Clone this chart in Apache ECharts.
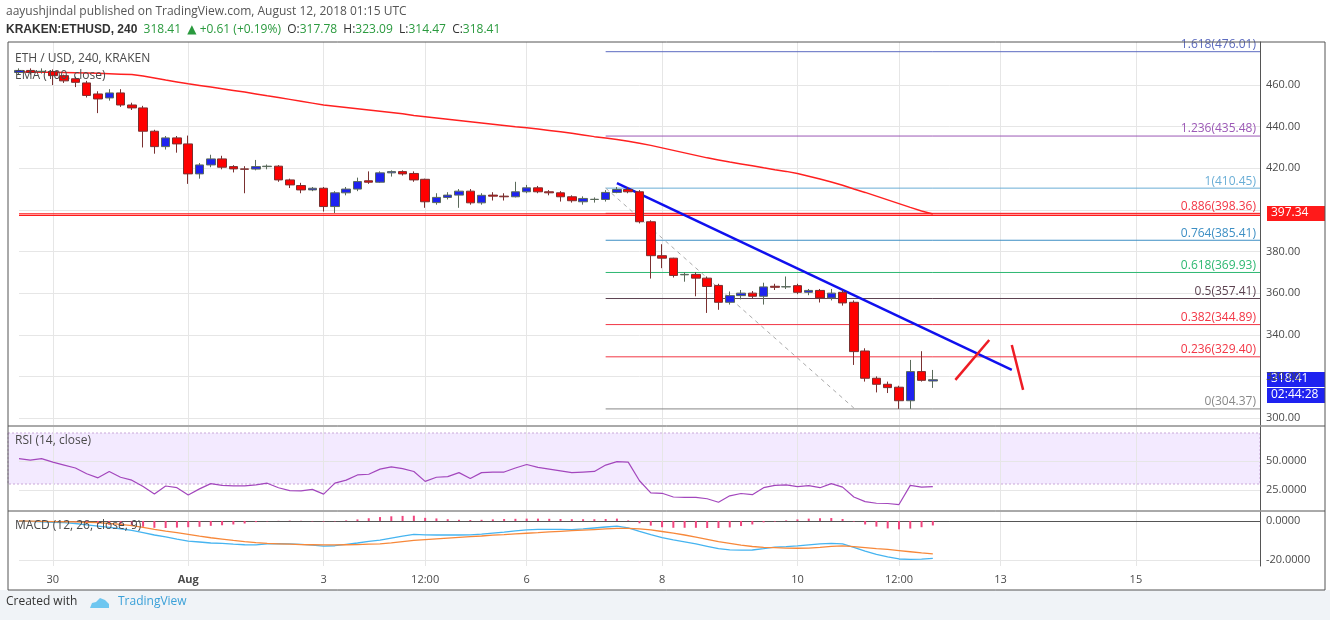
<!DOCTYPE html>
<html>
<head>
<meta charset="UTF-8">
<title>ETH / USD</title>
<script src="https://cdn.jsdelivr.net/npm/echarts@6/dist/echarts.min.js"></script>
<style>
  html, body { margin: 0; padding: 0; background: #fff; }
  #chart { width: 1330px; height: 620px; }
</style>
</head>
<body>
<div id="chart"></div>
<script>
// [open, close, low, high] per 4h candle
const candles = [
  [466,467,465,468],[467,466,465,468],[466.5,466.6,465.5,468],[466.5,464.5,460,467.5],[464.5,462,461,465],
  [463,461.3,459,464],[461,455,454,462],[455.7,453.3,446.5,457],[453.8,456.2,452.5,458],[456.2,450.4,449.5,458],
  [450.4,449,448,451.5],[449,437.8,430,450],[437.8,430.4,427,438.5],[430.4,434.6,429,435.5],[434.6,431.7,427.5,435.5],
  [431.7,417.3,412.5,435.7],[417.3,421.6,415,422.5],[421.6,424.5,420.5,426.5],[424.5,420.5,419.5,426],[420.8,419.7,418,421.5],
  [419.7,419.5,408,421],[419.6,420.8,419,424],[420.8,421,419.5,421.8],[421,414.4,413.5,421.5],[414.4,412,410.5,415],
  [411.7,409.6,408,413],[409.6,410.4,409,411],[410.4,401.6,399.2,411],[401.6,408.2,398.5,409],[408.2,410,407,411],
  [410,413.6,409,415.5],[414,413.3,412.5,418.5],[413.3,417.8,413,418.5],[417.8,418.4,416,419],[418.4,417.3,416.5,419],
  [417.5,414.4,413.5,418.5],[414.7,403.9,401,415],[403.5,406,402.5,408],[406,407.1,405,408.5],[407.1,409,401,410],
  [409,403.4,402.5,410],[403.4,407,402.5,408],[407.1,406.6,404.5,408.5],[406.6,406.3,404.5,408],[406.3,408.7,406,413.5],
  [408.7,410.6,408,412],[410.6,408.7,408,411.5],[408.7,408.2,407,409.5],[408.2,406.3,404,409],[406.3,404.4,403.5,407],
  [403.9,405.5,402.5,406.5],[405,405.1,403.5,406],[405,408.4,404,409.5],[408.4,409.8,408,411],[409.8,408.7,408,411],
  [408.7,394.3,393.5,409.5],[394.3,378,367,395],[378,376.8,372,383.5],[376.8,368.5,367.5,377],[368.8,369,365.5,370],
  [369,367.2,358.5,370],[367.2,363.2,350.5,368],[363.7,355.6,352,364.5],[355.6,358.8,354.5,360.8],[358.8,360,357,361.5],
  [360,358.5,357.5,361],[358.5,363,354.5,365],[363.3,362.8,361.5,364.5],[363,363.1,362,368],[363.6,360.4,359.5,364.5],
  [360.4,361.3,359,362],[361.3,357.7,355.5,362],[357.7,360,356.5,362],[360.4,355.3,354,361.5],[355.6,331.9,325.5,356.5],
  [332.2,319.1,317.5,333.5],[319.1,316.2,312.3,320],[316.2,314.6,312,317.5],[314.8,308.3,304.4,315.5],[308.3,322.3,304.4,327.9],
  [322.3,318.1,317.5,332.1],[317.78,318.41,314.47,323.09]
];
const ema100 = [
  466.2,466.2,466.1,466.1,466,465.9,465.8,465.6,465.4,465.2,
  465,464.3,463.4,462.4,461.5,460.6,459.8,459,458.2,457.4,
  456.6,455.7,454.8,454,453.1,452.2,451.3,450.4,449.8,449.2,
  448.6,448,447.4,446.8,446.2,445.4,444.8,444.2,443.6,443,
  442.4,441.8,441.2,440.6,440,439.5,438.9,438.2,437.5,436.8,
  436,435.2,434.5,433.8,433,432,431,429.8,428.6,427.4,
  426.2,425,424,423,422.1,421.2,420.2,419.3,418.5,417.5,
  416.2,414.8,413.4,411.8,410,408.4,406.6,404.8,403,401.2,
  399.5,398
];
const rsi = [
  52,50.7,52,49,46.5,44,39,35.5,41,36,33.5,28,21.5,28.5,27,20.7,26,30.5,29,28.5,
  28.5,29.5,30.9,27,24.5,24.2,25.6,21.5,31,33.5,38,38.6,43,45,43.5,41,32.5,36,36.6,40,
  35,40,40.5,40.5,44,47,44.5,43,41.5,40,40.5,41,46.5,49.5,49,33,22.5,22.2,19,18.7,
  18.7,17.5,14.5,20,22,21,27,29,29.4,28,28.8,27,30.5,27.5,19,15,13.6,13.4,12.5,29,
  27.5,28
];
const macd = [
  0,-0.2,-0.4,-0.7,-0.9,-1.3,-2,-2.6,-3.3,-4,-4.8,-6,-7.2,-8.2,-9.3,-10.3,-10.8,-11.3,-11.5,-11.9,
  -12.2,-12.3,-11.8,-11.6,-11.7,-12,-12.4,-12.9,-12.7,-12,-11.3,-10.5,-9.8,-8.8,-7.8,-6.9,-7.1,-7.2,-7.2,-7.2,
  -7.1,-6.7,-6.2,-5.7,-5.1,-4.6,-4.3,-4.3,-4.3,-4.4,-4.1,-3.6,-3.1,-2.6,-3.5,-5.3,-7,-8.6,-9.7,-10.7,
  -11.8,-13,-14.2,-14.8,-15,-14.9,-14.2,-13.4,-13.2,-12.8,-12.3,-11.8,-11.5,-11.8,-13.5,-15.5,-17.1,-18.4,-19.5,-19.7,
  -19.6,-19.2
];
const signal = [
  0,-0.1,-0.2,-0.3,-0.4,-0.5,-0.7,-0.9,-1.3,-1.8,-2.4,-3.3,-4.3,-5.2,-6,-6.9,-7.8,-8.6,-9.3,-10,
  -10.6,-11.1,-11.5,-11.7,-11.9,-12.1,-12.2,-12.3,-12.3,-12.2,-12.1,-11.9,-11.7,-11.2,-10.6,-10,-9.6,-9.2,-8.8,-8.4,
  -8,-7.7,-7.3,-7,-6.6,-6.3,-6,-5.6,-5.3,-5,-4.7,-4.4,-4.1,-3.8,-3.8,-4.1,-4.6,-5.4,-6.2,-7.2,
  -8.3,-9.4,-10.6,-11.5,-12.4,-13.1,-13.5,-13.7,-13.9,-14,-13.9,-13.5,-13,-12.8,-13.2,-13.7,-14.2,-14.6,-15.2,-15.8,
  -16.4,-16.9
];
const hist = [
  0,-0.1,-0.2,-0.3,-0.5,-0.7,-1.2,-1.6,-2,-2.3,-2.6,-3,-3.5,-3.6,-3.4,-3.2,-3,-2.5,-2.2,-1.8,
  -1.3,-0.6,-0.2,0.1,0.2,0.1,-0.2,-0.3,-0.2,0.3,0.8,1.4,2,2.4,2.6,2.7,1.6,1.3,0.9,0.6,
  0.5,0.6,0.8,1,1.1,1.2,1.2,1.1,1,0.9,0.9,0.9,1,1.2,0.3,-1.2,-2.4,-3.2,-3.5,-3.5,
  -3.5,-3.6,-3.6,-3.3,-2.6,-1.8,-0.7,-0.3,0.3,0.8,1.2,1.4,1.5,1,-0.3,-1.8,-2.9,-3.8,-4.3,-3.9,
  -3.2,-2.3
];
const fibLevels = [
  ['1.618', 476.01, '#5c6bc0'], ['1.236', 435.48, '#9c59b6'], ['1', 410.45, '#6aaed6'],
  ['0.886', 398.36, '#f23645'], ['0.764', 385.41, '#3d8fc4'], ['0.618', 369.93, '#2eb872'],
  ['0.5', 357.41, '#5d4351'], ['0.382', 344.89, '#f23645'], ['0.236', 329.40, '#f23645'], ['0', 304.37, '#888888']
];
const tickLabels = {3: '30', 15: 'Aug', 27: '3', 36: '12:00', 45: '6', 57: '8', 69: '10', 78: '12:00', 87: '13', 99: '15'};
const priceTicks = [300, 320, 340, 360, 380, 400, 420, 440, 460];
const priceLabels = [300, 320, 340, 360, 380, 420, 440, 460];
const supportLevel = 397.34;
const trendLine = [[53, 412.9], [88, 323.1]];
const fibDiagonal = [[52, 410.5], [74.3, 304.8]];
const redStroke1 = [[83.2, 318.3], [85.8, 337.5]];
const redStroke2 = [[87.9, 335.1], [89, 313.5]];

const slots = [];
for (let i = 0; i <= 110; i++) slots.push(String(i));
const F = 'Open Sans, DejaVu Sans, sans-serif';
const gridCol = '#e6e6e6';
const GL = 19, GR = 70;

function xAxisFor(gridIndex, showLabels) {
  return {
    type: 'category', gridIndex: gridIndex, data: slots, boundaryGap: false,
    axisLine: {show: showLabels, lineStyle: {color: '#555'}},
    axisTick: {show: false},
    axisLabel: {
      show: showLabels, interval: (i) => tickLabels[i] !== undefined,
      formatter: (v) => tickLabels[v] === 'Aug' ? '{b|Aug}' : (tickLabels[v] || ''),
      color: '#4a4a4a', fontSize: 11, fontFamily: F, margin: 8,
      rich: {b: {fontWeight: 'bold', color: '#4a4a4a', fontSize: 11, fontFamily: F}}
    },
    splitLine: {show: true, interval: (i) => tickLabels[i] !== undefined, lineStyle: {color: gridCol}}
  };
}
function yAxisFor(gridIndex, min, max, ticks, labels, fmt) {
  return {
    type: 'value', gridIndex: gridIndex, position: 'right', min: min, max: max,
    axisLine: {show: true, lineStyle: {color: '#555'}},
    axisTick: {show: false, customValues: ticks},
    axisLabel: {customValues: labels, formatter: fmt, color: '#4a4a4a', fontSize: 11, fontFamily: F, margin: 6},
    splitLine: {show: true, lineStyle: {color: gridCol}}
  };
}
function seg(pts, color, width, type, x, y) {
  return {type: 'line', xAxisIndex: x || 0, yAxisIndex: y || 0, data: pts, symbol: 'none', clip: false,
    lineStyle: {color: color, width: width, type: type || 'solid'}, silent: true, z: 4};
}

const series = [];
series.push({
  type: 'candlestick', data: candles, barWidth: 9, clip: false, z: 5,
  itemStyle: {color: '#1e22f0', color0: '#ff0000', borderColor: '#5a6a5a', borderColor0: '#7a3030', borderWidth: 1}
});
series.push(seg(ema100.map((v, i) => [i, v]), '#ff2020', 1.5));
fibLevels.forEach(([r, v, c]) => {
  const s = seg([[52, v], [110, v]], c, 1);
  s.z = 2;
  s.endLabel = {
    show: true, align: 'right', verticalAlign: 'bottom', distance: 0, offset: [-4, -1],
    formatter: r + '(' + v.toFixed(2) + ')', color: c, fontSize: 12, fontFamily: F
  };
  series.push(s);
});
series.push(seg([[0, supportLevel + 0.8], [110, supportLevel + 0.8]], '#ff1a1a', 1.2));
series.push(seg([[0, supportLevel], [110, supportLevel]], '#ff1a1a', 1.2));
series.push(seg(fibDiagonal, '#aaaaaa', 1, [4, 4]));
series.push(seg(trendLine, '#1010ee', 2.5));
series.push(seg(redStroke1, '#ee1c24', 2.5));
series.push(seg(redStroke2, '#ee1c24', 2.5));

series.push({
  type: 'line', xAxisIndex: 1, yAxisIndex: 1, data: rsi, symbol: 'none',
  lineStyle: {color: '#a347bd', width: 1.2}, z: 4
});
series.push({
  type: 'bar', xAxisIndex: 2, yAxisIndex: 2, data: hist, barWidth: 2,
  itemStyle: {color: '#f0457e'}, z: 3
});
series.push({type: 'line', xAxisIndex: 2, yAxisIndex: 2, data: macd, symbol: 'none', lineStyle: {color: '#46b4f0', width: 1.3}, z: 4});
series.push({type: 'line', xAxisIndex: 2, yAxisIndex: 2, data: signal, symbol: 'none', lineStyle: {color: '#f7883a', width: 1.3}, z: 4});

const txt = (x, y, t, style) => ({type: 'text', x: x, y: y, z: 20, silent: true,
  style: Object.assign({text: t, font: '12px ' + F, fill: '#333'}, style || {})});
const box = (x, y, w, h, fill, t) => ({type: 'group', x: x, y: y, z: 20, children: [
  {type: 'rect', shape: {x: 0, y: 0, width: w, height: h}, style: {fill: fill}},
  {type: 'text', x: 4, y: 1, style: {text: t, font: '12px ' + F, fill: '#fff'}}
]});

const chart = echarts.init(document.getElementById('chart'), null, {renderer: 'canvas'});
chart.setOption({
  animation: false,
  backgroundColor: '#fff',
  grid: [
    {left: GL, right: GR, top: 42, height: 383},
    {left: GL, right: GR, top: 427, height: 83},
    {left: GL, right: GR, top: 512, height: 54}
  ],
  xAxis: [xAxisFor(0, false), xAxisFor(1, false), xAxisFor(2, true)],
  yAxis: [
    yAxisFor(0, 296.64, 480.67, priceTicks, priceLabels, (v) => v.toFixed(2)),
    yAxisFor(1, 7.8, 79.3, [25, 50], [25, 50], (v) => v.toFixed(4)),
    yAxisFor(2, -23.1, 4.6, [-20, 0], [-20, 0], (v) => v.toFixed(4))
  ],
  series: series,
  graphic: [
    // RSI 30-70 band spans the whole pane width
    {type: 'rect', x: 8, y: 433, z: 0, silent: true, shape: {width: 1252, height: 51},
      style: {fill: 'rgba(155, 80, 255, 0.12)', stroke: '#c9a8d8', lineDash: [2, 2]}},
    {type: 'rect', x: 0, y: 590, shape: {width: 1330, height: 30}, style: {fill: '#f0f3f7'}, z: 10},
    {type: 'rect', x: 8, y: 42, shape: {width: 1317, height: 548}, style: {fill: 'none', stroke: '#555', lineWidth: 1}, z: 10},
    {type: 'line', shape: {x1: 8, y1: 426, x2: 1325, y2: 426}, style: {stroke: '#555'}, z: 10},
    {type: 'line', shape: {x1: 8, y1: 511, x2: 1325, y2: 511}, style: {stroke: '#555'}, z: 10},
    txt(6, 6, 'aayushjindal published on TradingView.com, August 12, 2018 01:15 UTC', {fill: '#555'}),
    txt(6, 24, '{b|KRAKEN:ETHUSD, 240}  {g|318.41}  {g|▲ +0.61 (+0.19%)}  {k|O:}{g|317.78}  {k|H:}{g|323.09}  {k|L:}{g|314.47}  {k|C:}{g|318.41}', {
      rich: {b: {fontWeight: 'bold', fill: '#333', font: 'bold 12px ' + F},
        g: {fill: '#2a9a3e', font: '12px ' + F}, k: {fill: '#333', font: '12px ' + F}}
    }),
    txt(15, 53, 'ETH / USD, 240, KRAKEN', {fill: '#4a4a4a'}),
    txt(15, 70, 'EMA (100, close)', {fill: '#4a4a4a'}),
    txt(15, 435, 'RSI (14, close)', {fill: '#4a4a4a'}),
    txt(15, 520, 'MACD (12, 26, close, 9)', {fill: '#4a4a4a'}),
    box(1267, 206, 58, 15, '#ff1a1a', '397.34'),
    box(1267, 372, 58, 15, '#1e22f0', '318.41'),
    box(1267, 388, 58, 15, '#1e22f0', '02:44:28'),
    txt(6, 596, 'Created with', {fill: '#333'}),
    {type: 'polygon', x: 88, y: 596, z: 20, shape: {points: [[2, 12], [4, 7], [8, 6], [12, 2], [17, 4], [21, 8], [21, 12]]}, style: {fill: '#6ec6f0'}},
    txt(118, 596, 'TradingView', {fill: '#3aa0d8'})
  ]
});
</script>
</body>
</html>
